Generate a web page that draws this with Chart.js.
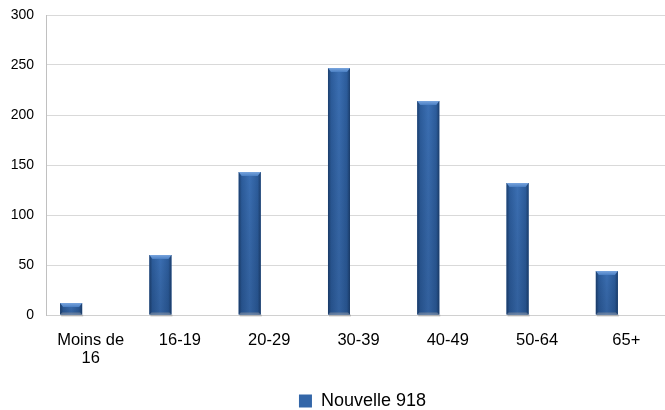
<!DOCTYPE html>
<html lang="fr">
<head>
<meta charset="utf-8">
<title>Nouvelle 918 par tranche d'âge</title>
<script src="https://cdn.jsdelivr.net/npm/chart.js@4.4.1/dist/chart.umd.min.js"></script>
<style>
  html, body { margin: 0; padding: 0; background: #ffffff; overflow: hidden; }
  #wrap { position: relative; width: 671px; height: 421px; }
</style>
</head>
<body>
<div id="wrap"><canvas id="chart"></canvas></div>
<script>
// Age groups along the x axis
const categories = [["Moins de", "16"], "16-19", "20-29", "30-39", "40-49", "50-64", "65+"];
// Number of Nouvelle 918 per age group
const nouvelle918 = [12, 60, 143, 247, 214, 132, 44];
// Second slot of each cluster stays empty
const emptySeries = [null, null, null, null, null, null, null];
// Value axis ticks
const yTicks = [0, 50, 100, 150, 200, 250, 300];

const FONT = '"Liberation Sans", Arial, sans-serif';

// Bevelled, shaded blue columns drawn over each bar element
const bevelBars = {
  id: 'bevelBars',
  afterDatasetDraw(chart, args) {
    if (args.index !== 0) return;
    const ctx = chart.ctx;
    args.meta.data.forEach(bar => {
      const p = bar.getProps(['x', 'y', 'base', 'width'], true);
      const l = p.x - p.width / 2, r = p.x + p.width / 2;
      const t = Math.min(p.y, p.base), b = Math.max(p.y, p.base);
      const w = r - l, h = b - t;
      ctx.save();
      // soft shadow under the column
      ctx.fillStyle = 'rgba(120,120,120,0.35)';
      ctx.fillRect(l + 1, b, w, 2);
      // horizontal shading: dark edges, lighter middle
      const g = ctx.createLinearGradient(l, 0, r, 0);
      g.addColorStop(0, '#1c3f6e');
      g.addColorStop(0.14, '#2c5c9b');
      g.addColorStop(0.5, '#3b6fb3');
      g.addColorStop(0.86, '#2c5c9b');
      g.addColorStop(1, '#1c3f6e');
      ctx.fillStyle = g;
      ctx.fillRect(l, t, w, h);
      // darker toward the base
      const v = ctx.createLinearGradient(0, t, 0, b);
      v.addColorStop(0, 'rgba(0,0,0,0)');
      v.addColorStop(1, 'rgba(10,30,60,0.18)');
      ctx.fillStyle = v;
      ctx.fillRect(l, t, w, h);
      // top bevel
      const bev = Math.min(4, h / 2);
      const tg = ctx.createLinearGradient(0, t, 0, t + bev);
      tg.addColorStop(0, '#79a5de');
      tg.addColorStop(1, '#4a7fc3');
      ctx.fillStyle = tg;
      ctx.beginPath();
      ctx.moveTo(l, t);
      ctx.lineTo(r, t);
      ctx.lineTo(r - 3, t + bev);
      ctx.lineTo(l + 3, t + bev);
      ctx.closePath();
      ctx.fill();
      // bottom bevel
      ctx.fillStyle = 'rgba(140,150,165,0.55)';
      ctx.beginPath();
      ctx.moveTo(l, b);
      ctx.lineTo(r, b);
      ctx.lineTo(r - 2, b - 2);
      ctx.lineTo(l + 2, b - 2);
      ctx.closePath();
      ctx.fill();
      ctx.restore();
    });
  }
};

// The legend sits a little right of the canvas centre
const legendShift = {
  id: 'legendShift',
  afterLayout(chart) {
    const lg = chart.legend;
    if (lg) { lg.left += 27; lg.right += 27; }
  }
};

new Chart(document.getElementById('chart'), {
  type: 'bar',
  data: {
    labels: categories,
    datasets: [
      {
        label: 'Nouvelle 918',
        data: nouvelle918,
        backgroundColor: '#3366a8',
        borderWidth: 0,
        barPercentage: 0.564,
        categoryPercentage: 0.874
      },
      {
        label: '',
        data: emptySeries,
        backgroundColor: 'rgba(0,0,0,0)',
        borderWidth: 0,
        barPercentage: 0.564,
        categoryPercentage: 0.874
      }
    ]
  },
  options: {
    responsive: true,
    maintainAspectRatio: false,
    animation: false,
    layout: { padding: { top: 15, right: 0, bottom: 1, left: 0 } },
    plugins: {
      tooltip: { enabled: false },
      legend: {
        position: 'bottom',
        labels: {
          filter: item => item.text !== '',
          boxWidth: 13,
          boxHeight: 13,
          padding: 8,
          color: '#000000',
          font: { family: FONT, size: 18 }
        }
      }
    },
    scales: {
      x: {
        grid: { display: false, drawTicks: false },
        border: { display: true, color: '#d0d0d0', width: 1 },
        ticks: {
          color: '#000000',
          maxRotation: 0,
          autoSkip: false,
          padding: 17,
          font: { family: FONT, size: 16.5, lineHeight: 1.08 }
        },
        afterFit: scale => { scale.height = 69; }
      },
      y: {
        min: 0,
        max: 300,
        afterBuildTicks: scale => { scale.ticks = yTicks.map(v => ({ value: v })); },
        grid: { color: '#d9d9d9', drawTicks: false, lineWidth: 1 },
        border: { display: true, color: '#c0c0c0', width: 1 },
        ticks: {
          color: '#000000',
          padding: 12,
          font: { family: FONT, size: 14 }
        },
        afterFit: scale => {
          scale.width = 46;
          scale.paddingTop = 0;
          scale.paddingBottom = 0;
        }
      }
    }
  },
  plugins: [bevelBars, legendShift]
});
</script>
</body>
</html>
